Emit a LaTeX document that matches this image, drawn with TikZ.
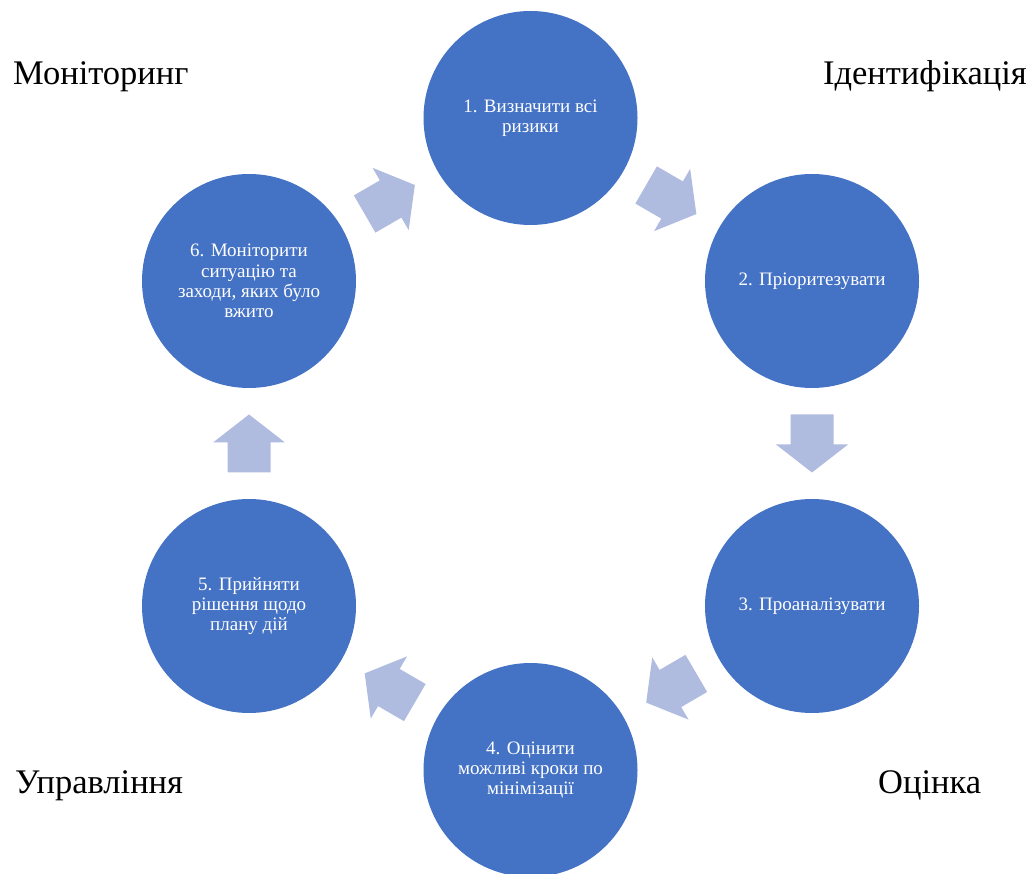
\documentclass[tikz,border=0pt]{standalone}
\usepackage{fontspec}
\setmainfont{Liberation Serif}
\usetikzlibrary{calc}
\definecolor{circblue}{HTML}{4472C4}
\definecolor{arrowblue}{RGB}{176,188,223}
\tikzset{
  stepcircle/.style={circle, fill=circblue, minimum size=214pt, inner sep=0pt,
    text=white, align=center, font=\fontsize{19}{20.3}\selectfont},
  cornerlabel/.style={inner sep=0pt, font=\fontsize{34.5}{40}\selectfont, text=black},
  blockarrow/.style={fill=arrowblue}
}
\newcommand{\blockarr}[3]{%
  \coordinate (#1) at ($(#2)!0.5!(#3)$);
  \path let \p1=($(#3)-(#2)$), \n1={atan2(\y1,\x1)} in
    [blockarrow, shift={(#1)}, rotate=\n1]
    (-29pt,-21.5pt) -- (1pt,-21.5pt) -- (1pt,-36pt) -- (29pt,0pt) -- (1pt,36pt) -- (1pt,21.5pt) -- (-29pt,21.5pt) -- cycle;
}
\begin{document}
\begin{tikzpicture}[x=1pt,y=1pt]
\useasboundingbox (0,0) rectangle (1035,873);
\node[stepcircle] (c1) at (530.5,755) {1. Визначити всі\\ризики};
\node[stepcircle] (c2) at (812,592) {2. Пріоритезувати};
\node[stepcircle] (c3) at (812,267) {3. Проаналізувати};
\node[stepcircle] (c4) at (530.5,103) {4. Оцінити\\можливі кроки по\\мінімізації};
\node[stepcircle] (c5) at (249,267) {5. Прийняти\\рішення щодо\\плану дій};
\node[stepcircle] (c6) at (249,592) {6. Моніторити\\ситуацію та\\заходи, яких було\\вжито};
\blockarr{a61}{c6}{c1}
\blockarr{a12}{c1}{c2}
\blockarr{a23}{c2}{c3}
\blockarr{a34}{c3}{c4}
\blockarr{a45}{c4}{c5}
\blockarr{a56}{c5}{c6}
\node[cornerlabel, anchor=base west] (lmon) at (13,788) {Моніторинг};
\node[cornerlabel, anchor=base east] (lid) at (1027,788) {Ідентифікація};
\node[cornerlabel, anchor=base west] (lupr) at (15,80) {Управління};
\node[cornerlabel, anchor=base west] (locin) at (878,80) {Оцінка};
\end{tikzpicture}
\end{document}
